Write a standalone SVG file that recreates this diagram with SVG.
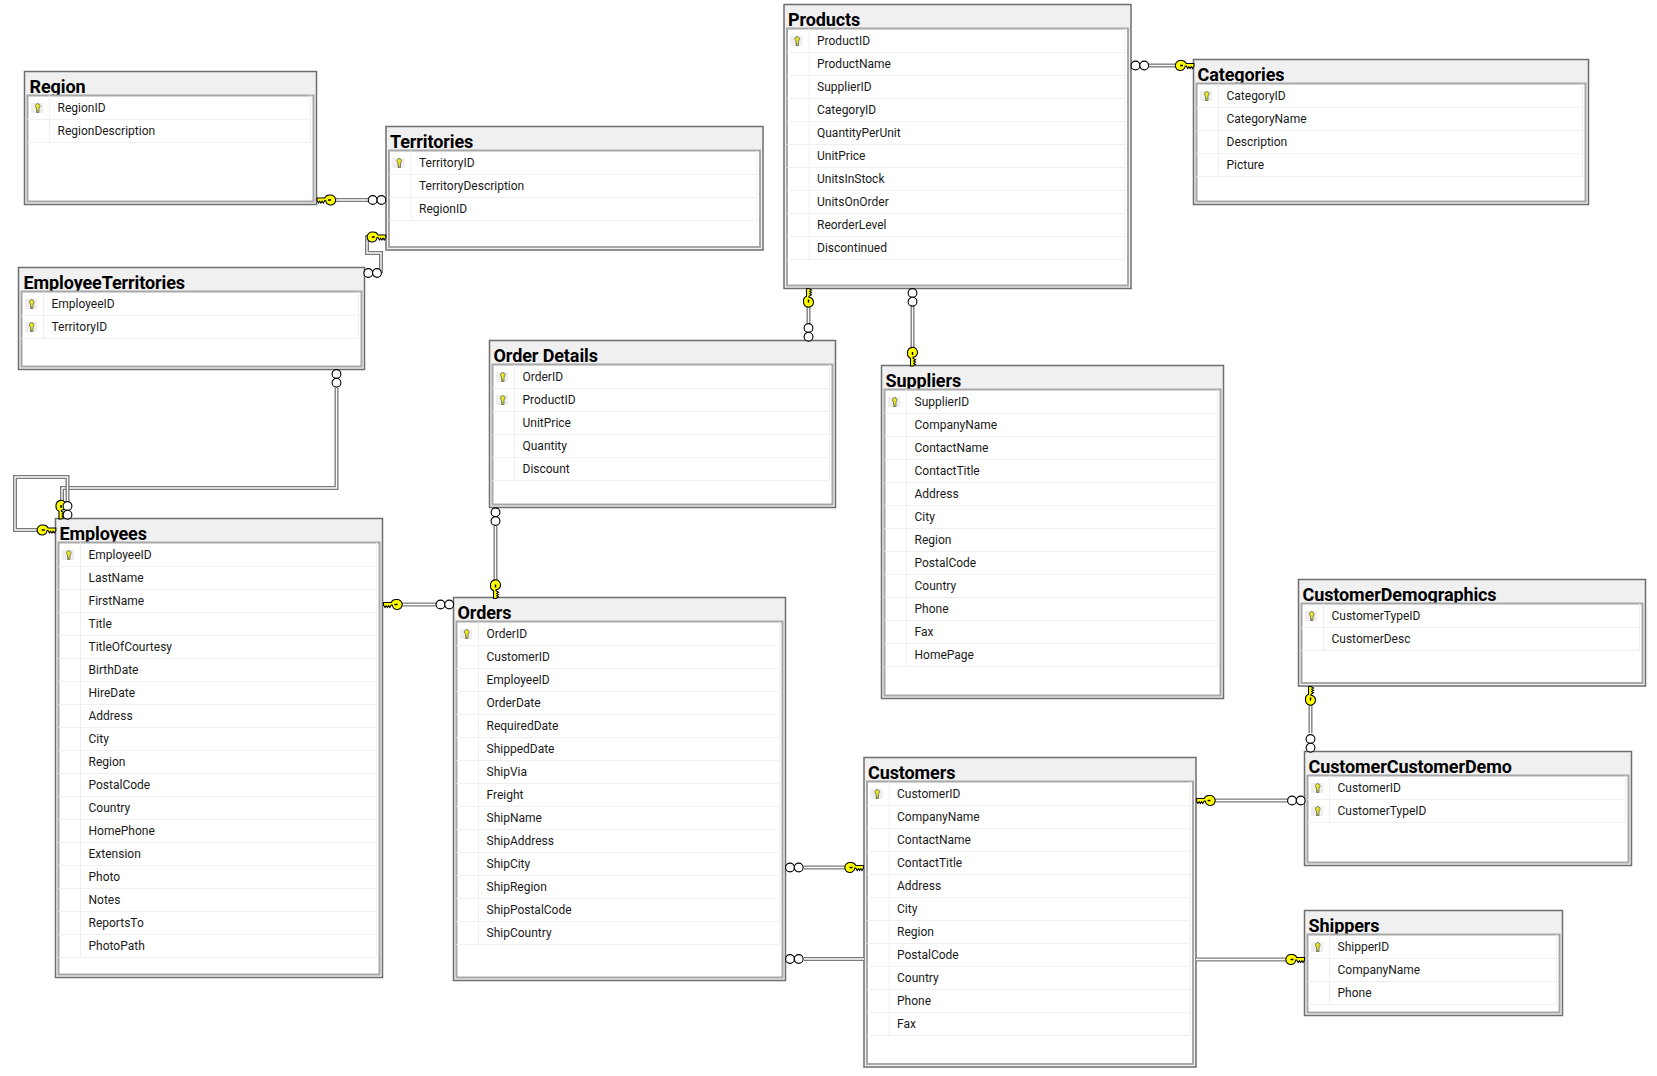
<svg xmlns="http://www.w3.org/2000/svg" width="1657" height="1076" viewBox="0 0 1657 1076">
<style>
text{font-family:Roboto,"Open Sans","Liberation Sans",sans-serif;fill:#000}
.t{font-size:18px;font-weight:700;letter-spacing:-.1px}
.f{font-size:12px;fill:#1a1a1a}
.o{fill:#f0f0f0;stroke:#6e6e6e;stroke-width:1.5}
.i{fill:#fff;stroke:#a8a8a8;stroke-width:2}
.d{fill:none;stroke:#efefef;stroke-width:1}
.a{fill:none;stroke:#7a7a7a;stroke-width:4}
.b{fill:none;stroke:#fff;stroke-width:1.3}
.k{fill:#ffff00;stroke:#000;stroke-width:1.100}
.c{fill:#fff;stroke:#000;stroke-width:1.100}
</style>
<defs>
<g id="pk"><rect x="6.500" y="-5" width="12" height="10" fill="#eeeeee"/><path d="M13 -4.500a2.500 2.500 0 0 1 1.500 4.500v4.500h-2.500v-1h1v-1h-1v-2.500a2.500 2.500 0 0 1 1-4.500z" fill="#e6e620" stroke="#555" stroke-width=".7"/></g>
<g id="key"><path class="k" d="M0-5a5 5 0 0 1 4.800 3h7.700v2.500l-1.500 2.500-1.200-1.800-1.200 1.800-1.200-1.800-1.200 1.800-1.500-2.500h-.9a5 5 0 1 1-4.800-5.500z"/><path d="M-1.500 0h3" stroke="#000" stroke-width="1.500"/></g>
<g id="oo"><circle class="c" cx="0" cy="0" r="4.400"/><circle class="c" cx="8.700" cy="0" r="4.400"/></g>
</defs>

<g id="Region" transform="translate(24.500,71.500)">
<rect class="o" width="292" height="133"/><text class="t" x="5" y="21">Region</text><rect class="i" x="3" y="24" width="286" height="106"/>
<path class="d" d="M3 48h283M3 71h283M25 24v47M286 24v47"/>
<use href="#pk" y="36.500"/>
<text class="f" x="33" y="40.500">RegionID</text><text class="f" x="33" y="63.500">RegionDescription</text>
</g>

<g id="Territories" transform="translate(386,126.500)">
<rect class="o" width="377" height="123.500"/><text class="t" x="4" y="21">Territories</text><rect class="i" x="3" y="24" width="371" height="96.500"/>
<path class="d" d="M3 48h368M3 71h368M3 94h368M25 24v70M371 24v70"/>
<use href="#pk" y="36.500"/>
<text class="f" x="33" y="40.500">TerritoryID</text><text class="f" x="33" y="63.500">TerritoryDescription</text><text class="f" x="33" y="86.500">RegionID</text>
</g>

<g id="EmployeeTerritories" transform="translate(18.500,267.500)">
<rect class="o" width="346" height="102"/><text class="t" x="5" y="21">EmployeeTerritories</text><rect class="i" x="3" y="24" width="340" height="75"/>
<path class="d" d="M3 48h337M3 71h337M25 24v47M340 24v47"/>
<use href="#pk" y="36.500"/><use href="#pk" y="59.500"/>
<text class="f" x="33" y="40.500">EmployeeID</text><text class="f" x="33" y="63.500">TerritoryID</text>
</g>

<g id="Products" transform="translate(784,4.500)">
<rect class="o" width="347" height="284"/><text class="t" x="4" y="21">Products</text><rect class="i" x="3" y="24" width="341" height="257"/>
<path class="d" d="M3 48h338M3 71h338M3 94h338M3 117h338M3 140h338M3 163h338M3 186h338M3 209h338M3 232h338M3 255h338M25 24v231M341 24v231"/>
<use href="#pk" y="36.500"/>
<text class="f" x="33" y="40.500">ProductID</text><text class="f" x="33" y="63.500">ProductName</text><text class="f" x="33" y="86.500">SupplierID</text><text class="f" x="33" y="109.500">CategoryID</text><text class="f" x="33" y="132.500">QuantityPerUnit</text><text class="f" x="33" y="155.500">UnitPrice</text><text class="f" x="33" y="178.500">UnitsInStock</text><text class="f" x="33" y="201.500">UnitsOnOrder</text><text class="f" x="33" y="224.500">ReorderLevel</text><text class="f" x="33" y="247.500">Discontinued</text>
</g>

<g id="Categories" transform="translate(1193.500,59.500)">
<rect class="o" width="395" height="145"/><text class="t" x="4" y="21">Categories</text><rect class="i" x="3" y="24" width="389" height="118"/>
<path class="d" d="M3 48h386M3 71h386M3 94h386M3 117h386M25 24v93M389 24v93"/>
<use href="#pk" y="36.500"/>
<text class="f" x="33" y="40.500">CategoryID</text><text class="f" x="33" y="63.500">CategoryName</text><text class="f" x="33" y="86.500">Description</text><text class="f" x="33" y="109.500">Picture</text>
</g>

<g id="OrderDetails" transform="translate(489.500,340.500)">
<rect class="o" width="346" height="167"/><text class="t" x="4" y="21">Order Details</text><rect class="i" x="3" y="24" width="340" height="140"/>
<path class="d" d="M3 48h337M3 71h337M3 94h337M3 117h337M3 140h337M25 24v116M340 24v116"/>
<use href="#pk" y="36.500"/><use href="#pk" y="59.500"/>
<text class="f" x="33" y="40.500">OrderID</text><text class="f" x="33" y="63.500">ProductID</text><text class="f" x="33" y="86.500">UnitPrice</text><text class="f" x="33" y="109.500">Quantity</text><text class="f" x="33" y="132.500">Discount</text>
</g>

<g id="Suppliers" transform="translate(881.500,365.500)">
<rect class="o" width="342" height="333"/><text class="t" x="4" y="21">Suppliers</text><rect class="i" x="3" y="24" width="336" height="306"/>
<path class="d" d="M3 48h333M3 71h333M3 94h333M3 117h333M3 140h333M3 163h333M3 186h333M3 209h333M3 232h333M3 255h333M3 278h333M3 301h333M25 24v277M336 24v277"/>
<use href="#pk" y="36.500"/>
<text class="f" x="33" y="40.500">SupplierID</text><text class="f" x="33" y="63.500">CompanyName</text><text class="f" x="33" y="86.500">ContactName</text><text class="f" x="33" y="109.500">ContactTitle</text><text class="f" x="33" y="132.500">Address</text><text class="f" x="33" y="155.500">City</text><text class="f" x="33" y="178.500">Region</text><text class="f" x="33" y="201.500">PostalCode</text><text class="f" x="33" y="224.500">Country</text><text class="f" x="33" y="247.500">Phone</text><text class="f" x="33" y="270.500">Fax</text><text class="f" x="33" y="293.500">HomePage</text>
</g>

<g id="Employees" transform="translate(55.500,518.500)">
<rect class="o" width="327" height="459"/><text class="t" x="4" y="21">Employees</text><rect class="i" x="3" y="24" width="321" height="432"/>
<path class="d" d="M3 48h318M3 71h318M3 94h318M3 117h318M3 140h318M3 163h318M3 186h318M3 209h318M3 232h318M3 255h318M3 278h318M3 301h318M3 324h318M3 347h318M3 370h318M3 393h318M3 416h318M3 439h318M25 24v415M321 24v415"/>
<use href="#pk" y="36.500"/>
<text class="f" x="33" y="40.500">EmployeeID</text><text class="f" x="33" y="63.500">LastName</text><text class="f" x="33" y="86.500">FirstName</text><text class="f" x="33" y="109.500">Title</text><text class="f" x="33" y="132.500">TitleOfCourtesy</text><text class="f" x="33" y="155.500">BirthDate</text><text class="f" x="33" y="178.500">HireDate</text><text class="f" x="33" y="201.500">Address</text><text class="f" x="33" y="224.500">City</text><text class="f" x="33" y="247.500">Region</text><text class="f" x="33" y="270.500">PostalCode</text><text class="f" x="33" y="293.500">Country</text><text class="f" x="33" y="316.500">HomePhone</text><text class="f" x="33" y="339.500">Extension</text><text class="f" x="33" y="362.500">Photo</text><text class="f" x="33" y="385.500">Notes</text><text class="f" x="33" y="408.500">ReportsTo</text><text class="f" x="33" y="431.500">PhotoPath</text>
</g>

<g id="Orders" transform="translate(453.500,597.500)">
<rect class="o" width="332" height="383"/><text class="t" x="4" y="21">Orders</text><rect class="i" x="3" y="24" width="326" height="356"/>
<path class="d" d="M3 48h323M3 71h323M3 94h323M3 117h323M3 140h323M3 163h323M3 186h323M3 209h323M3 232h323M3 255h323M3 278h323M3 301h323M3 324h323M3 347h323M25 24v323M326 24v323"/>
<use href="#pk" y="36.500"/>
<text class="f" x="33" y="40.500">OrderID</text><text class="f" x="33" y="63.500">CustomerID</text><text class="f" x="33" y="86.500">EmployeeID</text><text class="f" x="33" y="109.500">OrderDate</text><text class="f" x="33" y="132.500">RequiredDate</text><text class="f" x="33" y="155.500">ShippedDate</text><text class="f" x="33" y="178.500">ShipVia</text><text class="f" x="33" y="201.500">Freight</text><text class="f" x="33" y="224.500">ShipName</text><text class="f" x="33" y="247.500">ShipAddress</text><text class="f" x="33" y="270.500">ShipCity</text><text class="f" x="33" y="293.500">ShipRegion</text><text class="f" x="33" y="316.500">ShipPostalCode</text><text class="f" x="33" y="339.500">ShipCountry</text>
</g>

<g id="Customers" transform="translate(864,757.500)">
<rect class="o" width="332" height="309.500"/><text class="t" x="4" y="21">Customers</text><rect class="i" x="3" y="24" width="326" height="282.500"/>
<path class="d" d="M3 48h323M3 71h323M3 94h323M3 117h323M3 140h323M3 163h323M3 186h323M3 209h323M3 232h323M3 255h323M3 278h323M25 24v254M326 24v254"/>
<use href="#pk" y="36.500"/>
<text class="f" x="33" y="40.500">CustomerID</text><text class="f" x="33" y="63.500">CompanyName</text><text class="f" x="33" y="86.500">ContactName</text><text class="f" x="33" y="109.500">ContactTitle</text><text class="f" x="33" y="132.500">Address</text><text class="f" x="33" y="155.500">City</text><text class="f" x="33" y="178.500">Region</text><text class="f" x="33" y="201.500">PostalCode</text><text class="f" x="33" y="224.500">Country</text><text class="f" x="33" y="247.500">Phone</text><text class="f" x="33" y="270.500">Fax</text>
</g>

<g id="CustomerDemographics" transform="translate(1298.500,579.500)">
<rect class="o" width="347" height="106.500"/><text class="t" x="4" y="21">CustomerDemographics</text><rect class="i" x="3" y="24" width="341" height="79.500"/>
<path class="d" d="M3 48h338M3 71h338M25 24v47M341 24v47"/>
<use href="#pk" y="36.500"/>
<text class="f" x="33" y="40.500">CustomerTypeID</text><text class="f" x="33" y="63.500">CustomerDesc</text>
</g>

<g id="CustomerCustomerDemo" transform="translate(1304.500,751.500)">
<rect class="o" width="327" height="114"/><text class="t" x="4" y="21">CustomerCustomerDemo</text><rect class="i" x="3" y="24" width="321" height="87"/>
<path class="d" d="M3 48h318M3 71h318M25 24v47M321 24v47"/>
<use href="#pk" y="36.500"/><use href="#pk" y="59.500"/>
<text class="f" x="33" y="40.500">CustomerID</text><text class="f" x="33" y="63.500">CustomerTypeID</text>
</g>

<g id="Shippers" transform="translate(1304.500,910.500)">
<rect class="o" width="258" height="105"/><text class="t" x="4" y="21">Shippers</text><rect class="i" x="3" y="24" width="252" height="78"/>
<path class="d" d="M3 48h249M3 71h249M3 94h249M25 24v70M252 24v70"/>
<use href="#pk" y="36.500"/>
<text class="f" x="33" y="40.500">ShipperID</text><text class="f" x="33" y="63.500">CompanyName</text><text class="f" x="33" y="86.500">Phone</text>
</g>

<g id="connectors">
<defs>
<path id="r1" d="M334 200H368"/>
<path id="r2" d="M368 237H367V253H381V273H381"/>
<path id="r3" d="M336.500 388V488H62V502"/>
<path id="r4" d="M38 530H15V477H67.500V502"/>
<path id="r5" d="M808.500 305V323"/>
<path id="r6" d="M912.500 306V349"/>
<path id="r7" d="M1149 65.500H1177"/>
<path id="r8" d="M495.500 526V582"/>
<path id="r9" d="M400 604.500H436"/>
<path id="r10" d="M804 867.500H846"/>
<path id="r11" d="M804 959H864"/>
<path id="r12" d="M1196 959.500H1288"/>
<path id="r13" d="M1214 800.500H1288"/>
<path id="r14" d="M1310.500 704V733"/>
</defs>
<use href="#r1" class="a"/><use href="#r1" class="b"/>
<use href="#r2" class="a"/><use href="#r2" class="b"/>
<use href="#r3" class="a"/><use href="#r3" class="b"/>
<use href="#r4" class="a"/><use href="#r4" class="b"/>
<use href="#r5" class="a"/><use href="#r5" class="b"/>
<use href="#r6" class="a"/><use href="#r6" class="b"/>
<use href="#r7" class="a"/><use href="#r7" class="b"/>
<use href="#r8" class="a"/><use href="#r8" class="b"/>
<use href="#r9" class="a"/><use href="#r9" class="b"/>
<use href="#r10" class="a"/><use href="#r10" class="b"/>
<use href="#r11" class="a"/><use href="#r11" class="b"/>
<use href="#r12" class="a"/><use href="#r12" class="b"/>
<use href="#r13" class="a"/><use href="#r13" class="b"/>
<use href="#r14" class="a"/><use href="#r14" class="b"/>

<use href="#key" transform="translate(329.500,200) scale(-1,1)"/><use href="#oo" x="372.700" y="200"/>
<use href="#key" transform="translate(373.300,237)"/><use href="#oo" x="368.300" y="273"/>
<use href="#key" transform="translate(61,506.500) rotate(90) scale(1,-1)"/><use href="#oo" transform="translate(336.500,374) rotate(90)"/>
<use href="#key" transform="translate(43.300,530)"/><use href="#oo" transform="translate(67.500,506) rotate(90)"/>
<use href="#key" transform="translate(808.500,301) rotate(-90)"/><use href="#oo" transform="translate(808.500,328) rotate(90)"/>
<use href="#oo" transform="translate(912.500,293) rotate(90)"/><use href="#key" transform="translate(912.500,353.500) rotate(90) scale(1,-1)"/>
<use href="#oo" x="1135.500" y="65.500"/><use href="#key" transform="translate(1181.500,65.500)"/>
<use href="#oo" transform="translate(495.500,512.300) rotate(90)"/><use href="#key" transform="translate(495.500,586) rotate(90) scale(1,-1)"/>
<use href="#key" transform="translate(396,604.500) scale(-1,1)"/><use href="#oo" x="440.500" y="604.500"/>
<use href="#oo" x="790" y="867.500"/><use href="#key" transform="translate(851,867.500)"/>
<use href="#oo" x="790" y="959"/>
<use href="#key" transform="translate(1292,959.500)"/>
<use href="#key" transform="translate(1209,800.500) scale(-1,1)"/><use href="#oo" x="1292" y="800.500"/>
<use href="#key" transform="translate(1310.500,699) rotate(-90)"/><use href="#oo" transform="translate(1310.500,739) rotate(90)"/>
</g>
</svg>
